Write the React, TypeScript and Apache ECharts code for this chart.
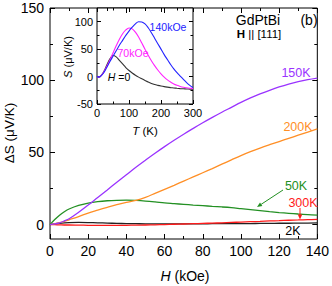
import React, { useEffect, useRef } from "react";
import * as echarts from "echarts";

// ---- main panel: ΔS vs H ----
const fieldKOe = [0, 2.5, 5, 7.5, 10, 15, 20, 25, 30, 35, 40, 45, 50, 55, 60, 65, 70, 75, 80, 85, 90, 95, 100, 105, 110, 115, 120, 125, 130, 135, 140];
const dS150K = [0, 0.4, 1.2, 2.5, 4, 8.5, 13.5, 18.8, 24, 29.3, 34.5, 39.7, 44.6, 49.4, 54, 58.4, 62.6, 66.6, 70.5, 74.2, 77.8, 81.2, 84.6, 87.7, 90.5, 93, 95.3, 97.3, 99, 100.4, 101.5];
const dS200K = [0, 0.6, 1.3, 2.2, 3.3, 5.5, 8.0, 10.0, 11.9, 13.8, 15.4, 16.8, 18.9, 21.6, 24.4, 27.2, 30.1, 33.0, 35.9, 38.8, 41.8, 44.8, 47.8, 50.5, 53.0, 55.3, 57.5, 59.7, 61.9, 64.1, 66.3];
const dS50K = [0, 3.5, 6.5, 8.9, 10.8, 13.3, 14.9, 15.9, 16.5, 16.8, 16.9, 16.7, 16.3, 15.7, 15.0, 14.5, 14.0, 13.5, 13.1, 12.6, 12.2, 11.7, 11.0, 10.3, 9.6, 8.9, 8.3, 7.8, 7.3, 6.9, 6.5];
const dS300K = [0, -0.1, -0.2, -0.3, -0.3, -0.4, -0.5, -0.6, -0.6, -0.6, -0.5, -0.4, -0.3, -0.2, 0, 0.2, 0.4, 0.6, 0.8, 1.0, 1.2, 1.5, 1.7, 2.0, 2.2, 2.5, 2.7, 3.0, 3.2, 3.4, 3.6];
const dS2K = [0, 0.5, 0.9, 1.2, 1.4, 1.5, 1.4, 1.2, 1.0, 0.8, 0.7, 0.6, 0.5, 0.5, 0.5, 0.5, 0.5, 0.5, 0.5, 0.6, 0.6, 0.6, 0.7, 0.7, 0.8, 0.8, 0.9, 0.9, 1.0, 1.0, 1.1];

const mainXTicks = { min: 0, max: 140, interval: 20 };
const mainYMajor = [0, 50, 100, 150];
const mainYMinor = [25, 75, 125];

// ---- inset: S vs T ----
const tempK = [0, 5, 10, 20, 30, 40, 50, 60, 70, 80, 90, 100, 110, 120, 130, 140, 150, 160, 170, 180, 190, 200, 210, 220, 230, 240, 250, 260, 270, 280, 290, 300];
const sH0 = [0, -1, 0, 8, 20, 32, 38.5, 36, 29.5, 23, 16.5, 11, 6.5, 2.5, -1, -4, -7, -10, -12.5, -14.5, -16, -17.3, -18.4, -19.3, -20.1, -20.8, -21.4, -21.9, -22.3, -22.6, -22.8, -23];
const s70kOe = [0, -1, 0, 7, 18, 30, 43, 56, 68, 78, 85, 88.5, 87, 81, 72, 61, 50, 39, 29, 20, 12, 5, -1, -6, -10, -13.5, -16, -18, -19.5, -20.5, -21.3, -22];
const s140kOe = [0, -1, 0, 6, 16, 27, 37, 47, 57, 66, 75, 83, 90, 96, 100, 99.5, 96, 89, 80, 70, 60, 50, 40, 31, 22, 14, 7, 1, -5, -11, -16, -20];

const insetYMajor = [-50, 0, 50, 100];
const insetYMinor = [-25, 25, 75];

const FONT = '"Liberation Sans", Arial, Helvetica, sans-serif';

const C150 = "#9a33ff";
const C200 = "#ff8f26";
const C50 = "#239023";
const C300 = "#ff1a1a";
const C2 = "#222222";
const CBLUE = "#2222ff";
const CMAG = "#ff22ff";
const CBLK = "#333333";

function pairs(xs: number[], ys: number[]) {
  return xs.map((x, i) => [x, ys[i]]);
}

function txt(x: number, y: number, text: string, size: number, fill: string, extra: any = {}) {
  return {
    type: "text",
    x,
    y,
    z: 100,
    style: {
      text,
      fill,
      fontSize: size,
      fontFamily: FONT,
      align: "center",
      verticalAlign: "middle",
      ...extra,
    },
  };
}

export default function App() {
  const ref = useRef<HTMLDivElement>(null);
  useEffect(() => {
    const chart = echarts.init(ref.current!, null, { renderer: "svg" });
    const tickLine = { color: "#000", width: 1 };
    const noLine = { show: false, onZero: false };

    const mainX = (pos: string, labels: boolean) => ({
      gridIndex: 0,
      type: "value",
      position: pos,
      ...mainXTicks,
      axisLine: noLine,
      axisTick: { show: true, inside: true, length: 5, lineStyle: tickLine },
      minorTick: { show: true, splitNumber: 2, length: 3, lineStyle: tickLine },
      axisLabel: { show: labels, fontSize: 14, color: "#000", fontFamily: FONT, margin: 5 },
      splitLine: { show: false },
      minorSplitLine: { show: false },
    });
    const mainY = (pos: string, vals: number[], len: number, labels: boolean) => ({
      gridIndex: 0,
      type: "value",
      position: pos,
      min: -10,
      max: 150,
      axisLine: noLine,
      axisTick: { show: true, inside: true, length: len, customValues: vals, lineStyle: tickLine },
      axisLabel: { show: labels, customValues: vals, fontSize: 14, color: "#000", fontFamily: FONT, margin: 6 },
      splitLine: { show: false },
    });
    const insetX = (pos: string, labels: boolean) => ({
      gridIndex: 1,
      type: "value",
      position: pos,
      min: 0,
      max: 300,
      interval: 100,
      axisLine: noLine,
      axisTick: { show: true, inside: true, length: 4, lineStyle: tickLine },
      minorTick: { show: true, splitNumber: 2, length: 2.5, lineStyle: tickLine },
      axisLabel: { show: labels, fontSize: 11, color: "#000", fontFamily: FONT, margin: 3 },
      splitLine: { show: false },
      minorSplitLine: { show: false },
    });
    const insetY = (pos: string, vals: number[], len: number, labels: boolean) => ({
      gridIndex: 1,
      type: "value",
      position: pos,
      min: -50,
      max: 125,
      axisLine: noLine,
      axisTick: { show: true, inside: true, length: len, customValues: vals, lineStyle: tickLine },
      axisLabel: { show: labels, customValues: vals, fontSize: 11, color: "#000", fontFamily: FONT, margin: 4 },
      splitLine: { show: false },
    });

    const line = (name: string, xi: number, yi: number, data: number[][], color: string, w: number) => ({
      name,
      type: "line",
      xAxisIndex: xi,
      yAxisIndex: yi,
      data,
      smooth: 0.35,
      showSymbol: false,
      symbol: "none",
      lineStyle: { color, width: w },
      z: 5,
    });

    const italic = { fontStyle: "italic", fontFamily: FONT };

    chart.setOption({
      animation: false,
      backgroundColor: "#fff",
      grid: [
        { left: 50, right: 12, top: 8, bottom: 47, show: true, borderColor: "#000", borderWidth: 1, backgroundColor: "transparent" },
        { left: 97, top: 8, width: 96, height: 96, show: true, borderColor: "#000", borderWidth: 1, backgroundColor: "#fff" },
      ],
      xAxis: [mainX("bottom", true), mainX("top", false), insetX("bottom", true), insetX("top", false)],
      yAxis: [
        mainY("left", mainYMajor, 5, true),
        mainY("right", mainYMajor, 5, false),
        mainY("left", mainYMinor, 3, false),
        mainY("right", mainYMinor, 3, false),
        insetY("left", insetYMajor, 4, true),
        insetY("right", insetYMajor, 4, false),
        insetY("left", insetYMinor, 2.5, false),
        insetY("right", insetYMinor, 2.5, false),
      ],
      series: [
        line("2K", 0, 0, pairs(fieldKOe, dS2K), C2, 1.3),
        line("300K", 0, 0, pairs(fieldKOe, dS300K), C300, 1.3),
        line("50K", 0, 0, pairs(fieldKOe, dS50K), C50, 1.3),
        line("200K", 0, 0, pairs(fieldKOe, dS200K), C200, 1.3),
        line("150K", 0, 0, pairs(fieldKOe, dS150K), C150, 1.3),
        line("H=0", 2, 4, pairs(tempK, sH0), CBLK, 1.1),
        line("70kOe", 2, 4, pairs(tempK, s70kOe), CMAG, 1.1),
        line("140kOe", 2, 4, pairs(tempK, s140kOe), CBLUE, 1.1),
      ],
      graphic: [
        // axis titles
        { type: "text", x: 9, y: 133, rotation: Math.PI / 2, z: 100,
          style: { text: "ΔS (μV/K)", fill: "#000", fontSize: 13.5, fontFamily: FONT, align: "center", verticalAlign: "middle" } },
        txt(185, 276, "{i|H} (kOe)", 14, "#000", { rich: { i: { ...italic, fontSize: 14, fill: "#000" } } }),
        { type: "text", x: 68, y: 57, rotation: Math.PI / 2, z: 100,
          style: { text: "{i|S} (μV/K)", fill: "#000", fontSize: 11, fontFamily: FONT, align: "center", verticalAlign: "middle",
            rich: { i: { ...italic, fontSize: 11, fill: "#000" } } } },
        txt(145, 131, "{i|T} (K)", 11.5, "#000", { rich: { i: { ...italic, fontSize: 11.5, fill: "#000" } } }),
        // sample / panel
        txt(258, 20, "GdPtBi", 14, "#000"),
        txt(309, 20, "(b)", 14, "#000"),
        txt(259, 34, "{b|H} || [111]", 11.5, "#000", { rich: { b: { fontWeight: "bold", fontFamily: FONT, fontSize: 11.5, fill: "#000" } } }),
        // main annotations
        txt(296, 73, "150K", 12.5, C150),
        txt(298, 127, "200K", 12.5, C200),
        txt(296, 186, "50K", 12.5, C50),
        txt(303, 203, "300K", 12.5, C300),
        txt(293, 231, "2K", 12.5, "#000"),
        { type: "line", z: 100, shape: { x1: 283, y1: 190, x2: 261.2, y2: 204.3 }, style: { stroke: C50, lineWidth: 1 } },
        { type: "polygon", z: 100, shape: { points: [[257, 207], [262.4, 206.1], [260.0, 202.4]] }, style: { fill: C50 } },
        { type: "line", z: 100, shape: { x1: 300, y1: 208, x2: 300, y2: 215 }, style: { stroke: C300, lineWidth: 1 } },
        { type: "polygon", z: 100, shape: { points: [[297.8, 214.5], [302.2, 214.5], [300, 219.5]] }, style: { fill: C300 } },
        // inset annotations
        txt(168, 27, "140kOe", 10.5, CBLUE),
        txt(133, 53, "70kOe", 10.5, CMAG),
        txt(119, 77, "{i|H} =0", 10.5, "#000", { rich: { i: { ...italic, fontSize: 10.5, fill: "#000" } } }),
      ],
    });
    return () => chart.dispose();
  }, []);
  return <div ref={ref} style={{ position: "fixed", left: 0, top: 0, width: 332, height: 286 }} />;
}
